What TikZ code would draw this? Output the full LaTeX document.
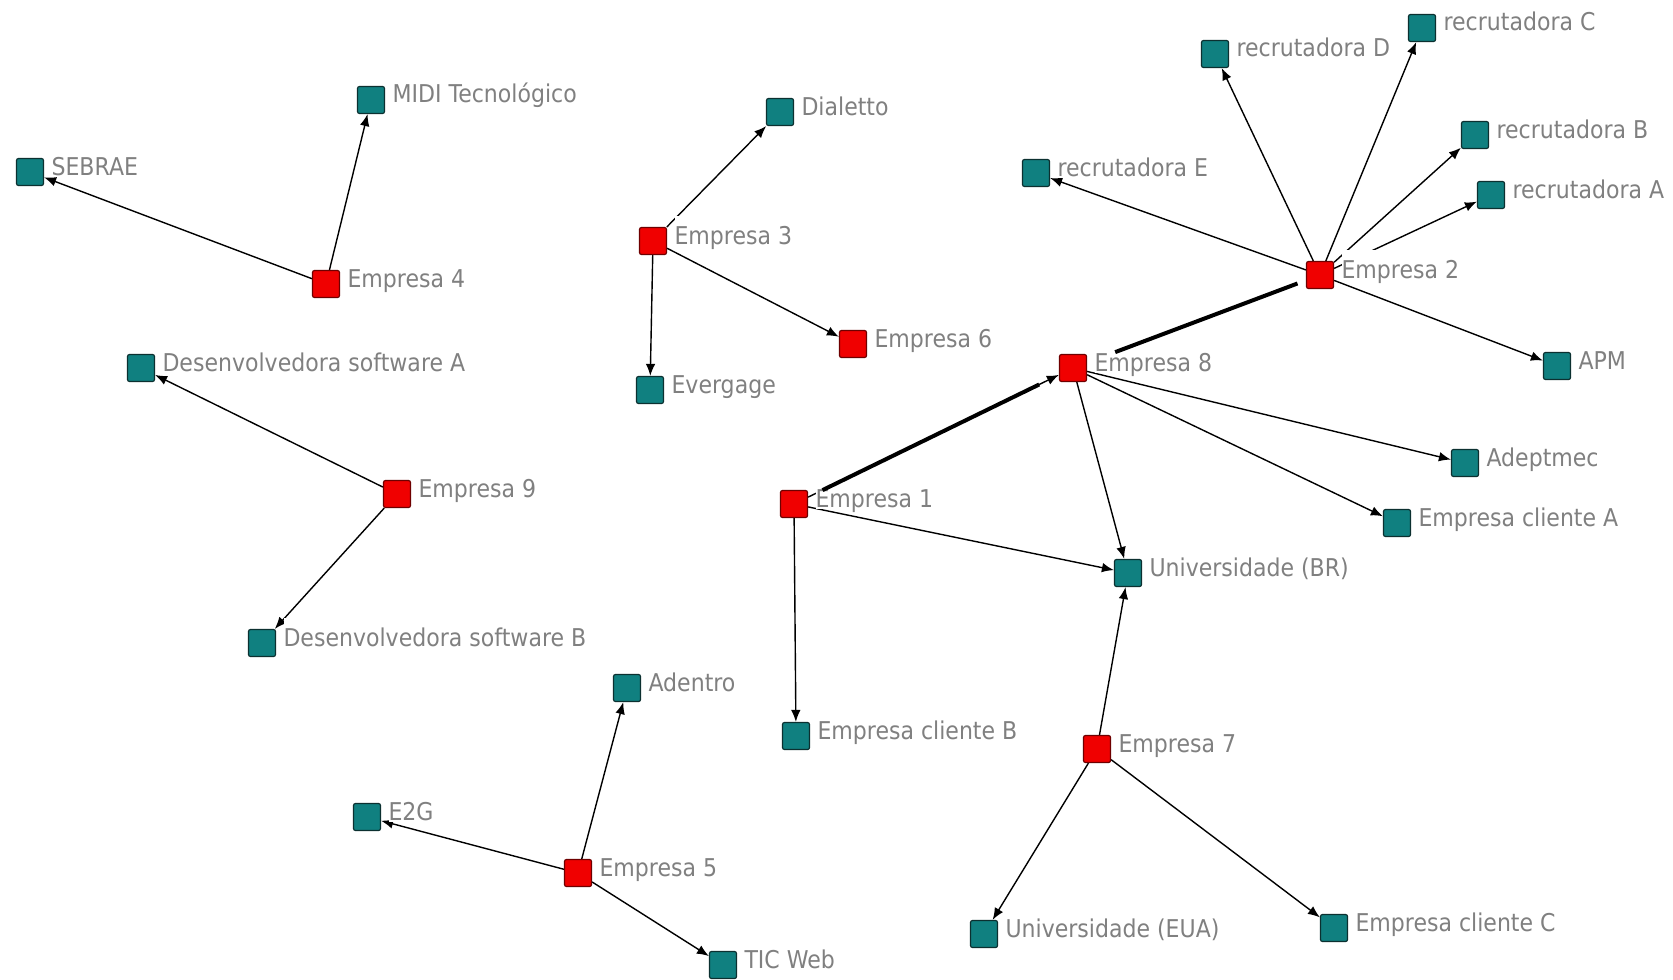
\documentclass[tikz,border=0pt]{standalone}
\usepackage{fontspec}
\newfontfamily\labfont{DejaVu Sans}[FakeStretch=0.9]
\usetikzlibrary{arrows.meta}
\pgfdeclarelayer{background}
\pgfsetlayers{background,main}

\definecolor{tealfill}{RGB}{16,128,128}
\definecolor{tealline}{RGB}{12,48,48}
\definecolor{redfill}{RGB}{240,0,0}
\definecolor{redline}{RGB}{110,0,0}
\definecolor{labgray}{RGB}{128,128,128}

\tikzset{
  sq/.style={rectangle, minimum size=13.5pt, inner sep=0pt, rounded corners=1pt, line width=0.6pt},
  firm/.style={sq, fill=redfill, draw=redline},
  partner/.style={sq, fill=tealfill, draw=tealline},
  lab/.style={anchor=base west, fill=white, inner xsep=0pt, inner ysep=0pt,
    text height=14pt, text depth=1pt, text=labgray,
    font=\labfont\fontsize{12.25}{14}\selectfont},
  link/.style={line width=0.7pt, -{Latex[length=6pt,width=4.8pt]}},
  strong/.style={line width=2pt, line cap=butt},
}

% actor square plus its label to the right
\newcommand\actor[4]{%
  \node[#2] (#1) at (#3) {};
  \node[lab] (#1-t) at ([xshift=3.5pt,yshift=-1.5pt]#1.east) {#4};
}

\begin{document}
\begin{tikzpicture}[x=0.5pt,y=-0.5pt]
\useasboundingbox (0,0) rectangle (1673,979);

% companies
\actor{e1}{firm}{794,504}{Empresa 1}
\actor{e2}{firm}{1320,275}{Empresa 2}
\actor{e3}{firm}{653,241}{Empresa 3}
\actor{e4}{firm}{326,284}{Empresa 4}
\actor{e5}{firm}{578,873}{Empresa 5}
\actor{e6}{firm}{853,344}{Empresa 6}
\actor{e7}{firm}{1097,749}{Empresa 7}
\actor{e8}{firm}{1073,368}{Empresa 8}
\actor{e9}{firm}{397,494}{Empresa 9}

% partners
\actor{sebrae}{partner}{30,172}{SEBRAE}
\actor{midi}{partner}{371,100}{MIDI Tecnológico}
\actor{dialetto}{partner}{780,112}{Dialetto}
\actor{evergage}{partner}{650,390}{Evergage}
\actor{recD}{partner}{1215,54}{recrutadora D}
\actor{recC}{partner}{1422,28}{recrutadora C}
\actor{recB}{partner}{1475,135}{recrutadora B}
\actor{recA}{partner}{1491,195}{recrutadora A}
\actor{recE}{partner}{1036,173}{recrutadora E}
\actor{apm}{partner}{1557,366}{APM}
\actor{adept}{partner}{1465,463}{Adeptmec}
\actor{ecA}{partner}{1397,523}{Empresa cliente A}
\actor{ubr}{partner}{1128,573}{Universidade (BR)}
\actor{ecB}{partner}{796,736}{Empresa cliente B}
\actor{ueua}{partner}{984,934}{Universidade (EUA)}
\actor{ecC}{partner}{1334,928}{Empresa cliente C}
\actor{dsA}{partner}{141,368}{Desenvolvedora software A}
\actor{dsB}{partner}{262,643}{Desenvolvedora software B}
\actor{adentro}{partner}{627,688}{Adentro}
\actor{e2g}{partner}{367,817}{E2G}
\actor{tic}{partner}{723,965}{TIC Web}

% ties, drawn beneath the labels
\begin{pgfonlayer}{background}
  \fill[white] (0,0) rectangle (1673,979);
  \draw[link] (e4) -- (sebrae);
  \draw[link] (e4) -- (midi);
  \draw[link] (e3) -- (dialetto);
  \draw[link] (e3) -- (evergage);
  \draw[link] (e3) -- (e6);
  \draw[link] (e2) -- (recD);
  \draw[link] (e2) -- (recC);
  \draw[link] (e2) -- (recB);
  \draw[link] (e2) -- (recA);
  \draw[link] (e2) -- (recE);
  \draw[link] (e2) -- (apm);
  \draw[link] (e1) -- (e8);
  \draw[link] (e8) -- (adept);
  \draw[link] (e8) -- (ecA);
  \draw[link] (e8) -- (ubr);
  \draw[link] (e1) -- (ubr);
  \draw[link] (e1) -- (ecB);
  \draw[link] (e7) -- (ubr);
  \draw[link] (e7) -- (ueua);
  \draw[link] (e7) -- (ecC);
  \draw[link] (e9) -- (dsA);
  \draw[link] (e9) -- (dsB);
  \draw[link] (e5) -- (adentro);
  \draw[link] (e5) -- (e2g);
  \draw[link] (e5) -- (tic);
\end{pgfonlayer}

% strong ties
\draw[strong, shorten <=8pt, shorten >=11pt] (e1) -- (e8);
\draw[strong, shorten <=15pt, shorten >=4.5pt] (e8) -- (e2);
\end{tikzpicture}
\end{document}
